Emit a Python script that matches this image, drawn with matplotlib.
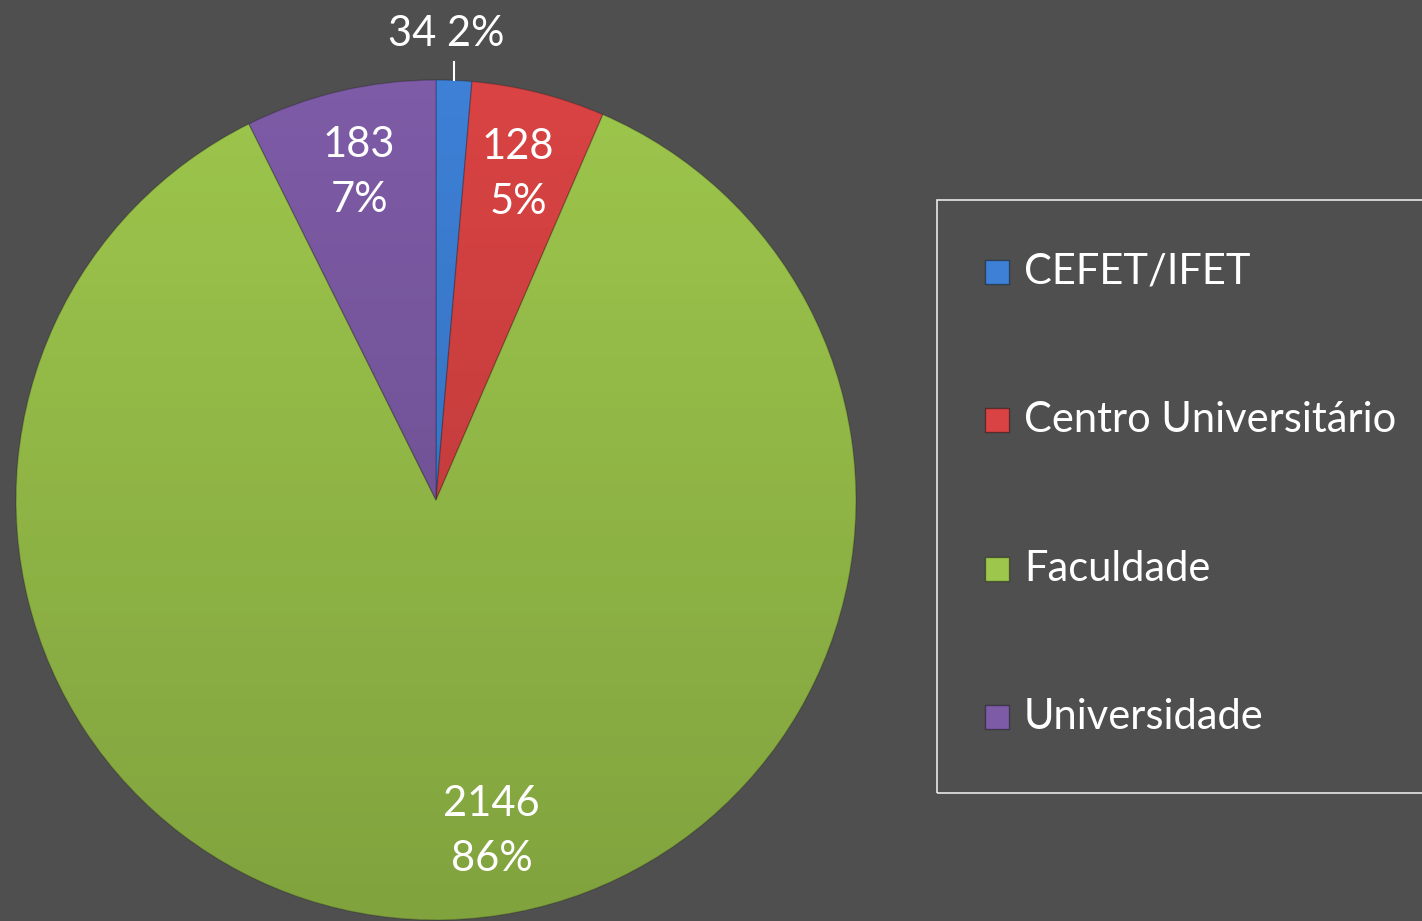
import numpy as np
import matplotlib.pyplot as plt
from matplotlib.patches import Circle, Rectangle

categories = ['CEFET/IFET', 'Centro Universitário', 'Faculdade', 'Universidade']
values = [34, 128, 2146, 183]
pct_labels = ['2%', '5%', '86%', '7%']
colors = ['#3d80d6', '#d94343', '#9dc64c', '#7d5ba6']

bg = '#4f4f4f'
fnt = 'Lato'
fs = 30

fig = plt.figure(figsize=(14.22, 9.21), dpi=100, facecolor=bg)
ax = fig.add_axes([0, 0, 1, 1])
ax.set_facecolor(bg)

cx, cy, r = 436, 421, 420
wedges, _ = ax.pie(values, colors=colors, startangle=90, counterclock=False,
                   center=(cx, cy), radius=r, frame=True,
                   wedgeprops=dict(edgecolor='#00000030', linewidth=1))
ax.set_xlim(0, 1422)
ax.set_ylim(0, 921)
ax.set_aspect('equal')
ax.axis('off')

# soft shading: lighter at top, darker at bottom
grad = np.zeros((256, 2, 4))
a = np.linspace(0.0, 0.18, 256)
grad[:, :, 3] = a[:, None]
shade = ax.imshow(grad, extent=(cx - r, cx + r, cy - r, cy + r), origin='upper',
                  aspect='auto', zorder=3)
shade.set_clip_path(Circle((cx, cy), r, transform=ax.transData))

# data labels
label_r = 0.80
angle_shift = [0, 0, 8, 0]
for i, w in enumerate(wedges):
    mid = np.deg2rad((w.theta1 + w.theta2) / 2 + angle_shift[i])
    if i == 0:
        ex, ey = cx + r * np.cos(mid), cy + r * np.sin(mid)
        ax.plot([ex, ex], [ey, ey + 18], color='white', lw=1.5, zorder=5)
        ax.text(ex - 8, ey + 46, f'{values[i]} {pct_labels[i]}', color='white',
                fontsize=fs, family=fnt, ha='center', va='center', zorder=5)
    else:
        tx, ty = cx + label_r * r * np.cos(mid), cy + label_r * r * np.sin(mid)
        ax.text(tx, ty, f'{values[i]}\n{pct_labels[i]}', color='white',
                fontsize=fs, family=fnt, ha='center', va='center',
                linespacing=1.55, zorder=5)

# legend
ax.add_patch(Rectangle((937, 128), 600, 593, facecolor='none', edgecolor='#e8e8e8',
                       lw=1.2, zorder=4, clip_on=False))
leg_y = [649, 501, 352, 204]
for i, name in enumerate(categories):
    ax.add_patch(Rectangle((985, leg_y[i] - 12), 24, 24, facecolor=colors[i],
                           edgecolor='#00000060', lw=1, zorder=5))
    ax.text(1024, leg_y[i], name, color='white', fontsize=fs, family=fnt,
            ha='left', va='center', zorder=5)

fig.savefig('out.png', dpi=100, facecolor=bg)
